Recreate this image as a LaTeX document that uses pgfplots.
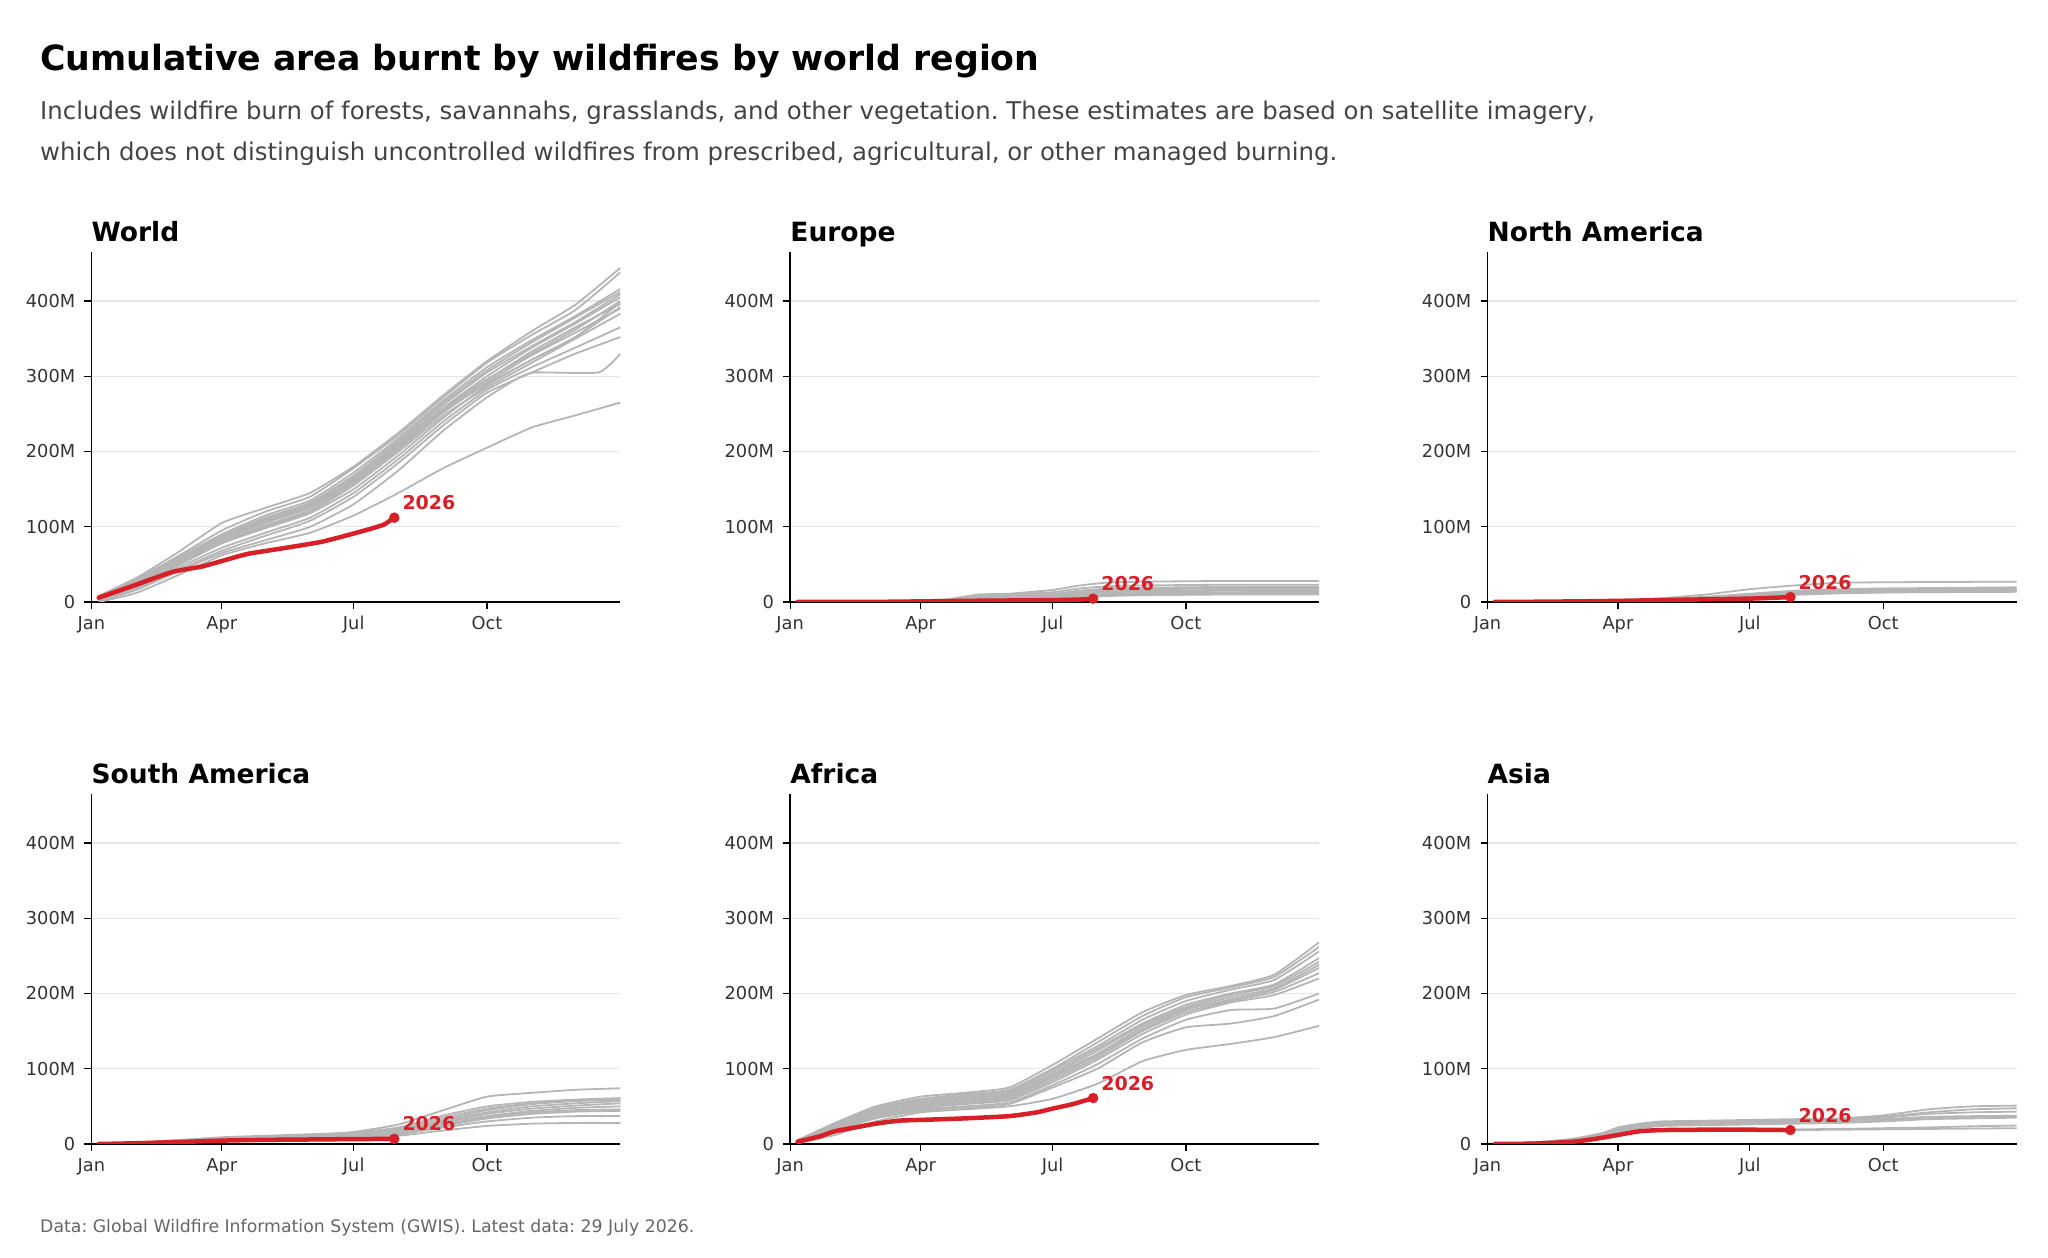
\documentclass[border=0pt]{standalone}
\usepackage{fontspec}
\setmainfont{DejaVu Sans}
\usepackage{pgfplots}
\usepackage{pgfplotstable}
\pgfplotsset{compat=1.18}
\frenchspacing
\definecolor{redl}{HTML}{D61F26}
\definecolor{grayl}{HTML}{B5B5B5}
\definecolor{gridc}{HTML}{E6E6E6}
\definecolor{tickc}{HTML}{333333}
\definecolor{subc}{HTML}{444444}
\definecolor{footc}{HTML}{666666}

% World
\pgfplotstableread{
d   a   b   c   e   f   g   h   i   j   k   l   m   n   o   p
5   8   6   5   6   5   4   5   3   4   5   3   2   2   0   3
31  32  30  28  30  27  26  28  25  24  26  22  20  18  12  22
59  65  60  58  57  55  54  56  52  50  52  48  45  42  35  50
90  105 95  90  88  86  85  87  82  80  84  78  72  68  62  78
120 125 120 115 112 110 108 110 105 102 106 100 92  88  78  98
151 145 140 135 132 130 128 131 125 122 127 120 112 108 92  118
181 180 178 172 168 165 163 166 160 158 162 155 145 140 115 150
212 225 222 218 215 212 208 210 205 203 206 200 190 185 145 195
243 275 272 268 265 262 258 258 255 252 253 248 240 235 178 245
273 320 318 312 308 305 300 296 295 292 290 285 282 278 205 288
304 360 355 348 345 340 338 330 333 328 322 318 312 305 232 322
334 395 388 380 378 372 370 362 365 358 352 350 338 330 248 352
365 444 438 416 412 409 405 400 396 390 392 383 365 352 265 398
}\worldtab
% Europe
\pgfplotstableread{
d   a    b    c    e    f    g    h    i    j    k
5   0    0    0    0    0    0    0    0    0    0
60  0.5  0.3  0.3  0.2  0.2  0.2  0.1  0.1  0.1  0.1
90  1    1    0.8  0.6  0.5  0.5  0.4  0.3  0.3  0.3
110 4    3    3    2    2    1.5  1.2  1    1    1
130 10   8    7    6    5    4    3    3    2    2
151 11   10   8    7    6    5    4    4    3    3
181 16   13   11   10   9    8    7    6    5    5
200 22   18   15   13   12   11   9    8    7    6
220 26   21   18   16   14   13   11   10   9    8
243 27   22   19   17   15   14   12   11   10   9
273 27.5 22.5 19.5 17.5 15.5 14.5 12.5 11.5 10.5 9.5
304 28   23   20   18   16   15   13   12   11   10
365 28   23   20   18   16.5 15   13.5 12   11   10
}\eurtab
% North America
\pgfplotstableread{
d   a    b    c    e    f    g    h    i
5   0    0    0    0    0    0    0    0
31  0.3  0.3  0.3  0.2  0.2  0.2  0.2  0.2
59  0.8  0.8  0.7  0.6  0.6  0.5  0.5  0.4
90  2    2    1.8  1.6  1.5  1.4  1.3  1.2
120 5    4    3.5  3    3    2.8  2.5  2.3
151 10   7    6    5.5  5    4.5  4    3.8
181 17   11   10   9    8    7.5  7    6.5
212 22   15   13.5 12.5 11.5 11   10   9.5
243 25.5 17   15.5 14.5 13.5 13   12   11.5
273 26.2 18   16.5 15.5 14.5 14   13   12.5
304 26.5 18.5 17   16   15   14.5 13.5 13
365 27   19.5 18   17   16   15   14   13.5
}\natab
% South America
\pgfplotstableread{
d   a   b   c   e   f   g   h   i   j   k   l
5   0   0   0   0   0   0   0   0   0   0   0
31  2   2   2   1.5 1.5 1.5 1   1   1   1   1
59  5   5   4   4   3.5 3.5 3   3   2.5 2.5 3
90  8   9   7   7   6   6   5   5   4.5 4   5
120 10  11  9   9   8   8   7   7   6   5.5 6.5
151 12  13  11  10  10  9   8   8   7   6.5 8
181 16  15  13  12  12  11  10  10  9   8   9
212 26  22  20  18  17  16  15  14  13  11  13
243 45  38  35  32  30  28  26  24  22  18  24
273 63  50  47  45  42  40  37  34  30  24  36
304 68  56  54  53  50  47  44  40  35  27  42
334 72  59  58  57  54  51  48  43  37  28  45
365 74  61  60  59  57  54  50  44  37  28  46
}\satab
% Africa
\pgfplotstableread{
d   a   b   c   e   f   g   h   i   j   k   l   m
5   5   5   4   4   4   3   3   3   3   2   2   1
31  28  27  26  25  24  23  22  21  20  18  17  12
59  50  48  47  45  44  43  42  40  38  36  34  30
90  63  60  58  56  55  53  52  50  48  46  44  42
120 68  66  64  62  60  58  57  55  53  50  48  46
151 75  72  70  68  66  64  62  60  58  55  53  50
181 105 100 98  95  92  90  88  85  82  78  75  60
212 140 135 130 127 124 120 118 115 112 106 100 80
243 175 170 165 160 158 155 152 150 146 140 135 110
273 198 195 190 185 182 180 178 175 172 165 155 125
304 210 208 205 200 198 195 192 190 188 178 160 133
334 225 222 218 212 210 207 205 202 198 180 170 142
365 268 262 256 247 242 238 234 227 220 200 192 157
}\aftab
% Asia
\pgfplotstableread{
d   a   b    c   e    f    g   h    i
5   0   0    0   0    0    0   0    0
31  2   2    1.5 1.5  1.5  1   1    1
59  7   6    6   5    5    4   4    3
80  15  14   13  12   12   10  9    8
90  22  21   20  19   18   16  14   13
105 27  26   25  24   23   21  17   16
120 30  29   28  27   26   24  18   17
151 31  30   29  28   27   25  18.5 17.5
181 32  31   30  29   28   26  19   18
212 33  32   31  30   29   27  19.5 18.5
243 34  33   32  31   30   28  20   19
273 38  36   35  33   32   30  21   19.5
304 46  42   40  36   35   33  22   20
334 50  46   42  37   36   34  23.5 20.5
365 51  47.5 43  37.5 36.5 35  24.5 21
}\astab

\pgfplotsset{
  panel/.style={
    scale only axis, width=529pt, height=350pt,
    anchor=south west,
    xmin=0, xmax=365, ymin=0, ymax=465,
    axis x line*=bottom, axis y line*=left,
    axis line style={line width=1.6pt, black},
    xtick={0,90,181,273}, xticklabels={},
    ytick={0,100,200,300,400}, yticklabels={},
    ymajorgrids, major grid style={gridc, line width=1.2pt},
    tick style={black, line width=1.3pt},
    tick align=outside, major tick length=7pt,
  },
  gl/.style={grayl, line width=1.8pt, no markers, smooth, tension=0.3},
  rl/.style={redl, line width=4.5pt, no markers, line join=round, line cap=round, smooth, tension=0.3},
  rdot/.style={only marks, mark=*, mark size=5pt, redl, mark options={draw=redl, fill=redl}},
}
\tikzset{
  myylab/.style={anchor=base east, inner sep=0pt, font=\fontsize{17.8}{18}\selectfont, text=tickc},
  myxlab/.style={anchor=base, inner sep=0pt, font=\fontsize{17.8}{18}\selectfont, text=tickc},
}
% tick labels of one panel, relative to the lower-left corner of its axis box
\newcommand{\panellabels}[2]{%
  \begin{scope}[shift={(#1,#2)}]
    \node[myylab] at (-16pt,-6.5pt) {0};
    \node[myylab] at (-16pt,68.77pt) {100M};
    \node[myylab] at (-16pt,144.04pt) {200M};
    \node[myylab] at (-16pt,219.31pt) {300M};
    \node[myylab] at (-16pt,294.58pt) {400M};
    \node[myxlab] at (0pt,-28pt) {Jan};
    \node[myxlab] at (130.44pt,-28pt) {Apr};
    \node[myxlab] at (262.33pt,-28pt) {Jul};
    \node[myxlab] at (395.67pt,-28pt) {Oct};
  \end{scope}%
}
\newcommand{\lab}[2]{\node[anchor=base west, inner sep=0pt, text=redl, font=\fontsize{19}{20}\selectfont\bfseries, xshift=8pt, yshift=8pt] at (axis cs:#1,#2) {2026};}
\newcommand{\ptitle}[2]{\node[anchor=base west, inner sep=0pt, font=\fontsize{26.5}{30}\selectfont\bfseries] at (#1) {#2};}

\begin{document}
\begin{tikzpicture}
% headings
\node[anchor=base west, inner sep=0pt, font=\fontsize{34.7}{40}\selectfont\bfseries] at (40pt,1187.5pt) {Cumulative area burnt by wildfires by world region};
\node[anchor=base west, inner sep=0pt, text=subc, font=\fontsize{24.4}{28}\selectfont] at (40pt,1138pt) {Includes wildfire burn of forests, savannahs, grasslands, and other vegetation. These estimates are based on satellite imagery,};
\node[anchor=base west, inner sep=0pt, text=subc, font=\fontsize{24.4}{28}\selectfont] at (40pt,1097.5pt) {which does not distinguish uncontrolled wildfires from prescribed, agricultural, or other managed burning.};
\node[anchor=base west, inner sep=0pt, text=footc, font=\fontsize{17.3}{18}\selectfont] at (40pt,25pt) {Data: Global Wildfire Information System (GWIS). Latest data: 29 July 2026.};

\ptitle{91.4pt,1016pt}{World}
\ptitle{790.2pt,1016pt}{Europe}
\ptitle{1487.5pt,1016pt}{North America}
\ptitle{91.4pt,474pt}{South America}
\ptitle{790.2pt,474pt}{Africa}
\ptitle{1487.5pt,474pt}{Asia}

\panellabels{91.4pt}{656pt}
\panellabels{790.2pt}{656pt}
\panellabels{1487.5pt}{656pt}
\panellabels{91.4pt}{114pt}
\panellabels{790.2pt}{114pt}
\panellabels{1487.5pt}{114pt}

% World
\begin{axis}[panel, at={(91.4pt,656pt)}]
\foreach \c in {a,b,c,e,f,g,h,i,j,k,l,m,n,o,p}{\addplot[gl] table[x=d,y=\c]{\worldtab};}
\addplot[gl] coordinates {(5,1)(31,16)(59,40)(90,65)(120,82)(151,100)(181,130)(212,175)(243,228)(273,272)(295,298)(306,305)(350,305)(365,330)};
\addplot[rl] coordinates {(5,5.7)(28,21)(56,40)(76,47)(91,55)(108,64)(131,71)(159,80)(181,91)(194,98)(202,103)(209,112)};
\addplot[rdot] coordinates {(209,112)};
\lab{209}{112}
\end{axis}

% Europe
\begin{axis}[panel, at={(790.2pt,656pt)}]
\foreach \c in {a,b,c,e,f,g,h,i,j,k}{\addplot[gl] table[x=d,y=\c]{\eurtab};}
\addplot[rl] coordinates {(5,0)(60,0.2)(90,0.8)(120,1.5)(151,2)(181,2.5)(200,3.2)(209,4.4)};
\addplot[rdot] coordinates {(209,4.4)};
\lab{209}{4.4}
\end{axis}

% North America
\begin{axis}[panel, at={(1487.5pt,656pt)}]
\foreach \c in {a,b,c,e,f,g,h,i}{\addplot[gl] table[x=d,y=\c]{\natab};}
\addplot[rl] coordinates {(5,0)(31,0.3)(60,0.8)(90,1.5)(120,2.5)(151,3.5)(181,4.5)(200,5.8)(209,6.6)};
\addplot[rdot] coordinates {(209,6.6)};
\lab{209}{6.6}
\end{axis}

% South America
\begin{axis}[panel, at={(91.4pt,114pt)}]
\foreach \c in {a,b,c,e,f,g,h,i,j,k,l}{\addplot[gl] table[x=d,y=\c]{\satab};}
\addplot[rl] coordinates {(5,0)(31,1)(59,2.5)(90,4.5)(120,5.5)(151,6)(181,6.5)(209,6.8)};
\addplot[rdot] coordinates {(209,6.8)};
\lab{209}{6.8}
\end{axis}

% Africa
\begin{axis}[panel, at={(790.2pt,114pt)}]
\foreach \c in {a,b,c,e,f,g,h,i,j,k,l,m}{\addplot[gl] table[x=d,y=\c]{\aftab};}
\addplot[rl] coordinates {(5,3)(20,10)(31,17)(45,22)(59,27)(75,31)(90,32)(120,34)(151,37)(170,42)(181,47)(195,53)(209,61)};
\addplot[rdot] coordinates {(209,61)};
\lab{209}{61}
\end{axis}

% Asia
\begin{axis}[panel, at={(1487.5pt,114pt)}]
\foreach \c in {a,b,c,e,f,g,h,i}{\addplot[gl] table[x=d,y=\c]{\astab};}
\addplot[rl] coordinates {(5,0)(31,0.5)(59,3)(75,7)(90,12)(105,17)(120,18.5)(151,19)(181,19)(209,18.5)};
\addplot[rdot] coordinates {(209,18.5)};
\lab{209}{18.5}
\end{axis}

\pgfresetboundingbox
\path[use as bounding box] (0pt,0pt) rectangle (2048pt,1258pt);
\end{tikzpicture}
\end{document}
